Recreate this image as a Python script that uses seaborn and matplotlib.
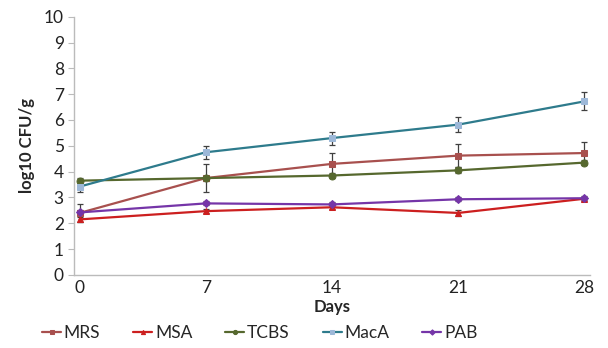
import matplotlib
matplotlib.use("Agg")
import matplotlib.pyplot as plt
import seaborn as sns
import pandas as pd

days = [0, 7, 14, 21, 28]
media = ["MRS", "MSA", "TCBS", "MacA", "PAB"]

mrs = [2.4, 3.75, 4.3, 4.62, 4.72]
msa = [2.15, 2.47, 2.62, 2.4, 2.95]
tcbs = [3.65, 3.75, 3.85, 4.05, 4.35]
maca = [3.42, 4.75, 5.3, 5.82, 6.72]
pab = [2.42, 2.77, 2.73, 2.93, 2.97]

mrs_err = [0.35, 0.55, 0.42, 0.45, 0.42]
msa_err = [0.1, 0.08, 0.08, 0.1, 0.08]
tcbs_err = [0.1, 0.1, 0.08, 0.12, 0.1]
maca_err = [0.2, 0.25, 0.25, 0.3, 0.35]
pab_err = [0.1, 0.08, 0.08, 0.08, 0.08]

values = dict(MRS=mrs, MSA=msa, TCBS=tcbs, MacA=maca, PAB=pab)
errors = dict(MRS=mrs_err, MSA=msa_err, TCBS=tcbs_err, MacA=maca_err, PAB=pab_err)

rows = []
for m in media:
    for d, v, e in zip(days, values[m], errors[m]):
        rows.append({"Days": d, "Medium": m, "CFU": v, "err": e})
df = pd.DataFrame(rows)

line_colors = {"MRS": "#A8504E", "MSA": "#CC1F1F", "TCBS": "#56682E", "MacA": "#2E7B8C", "PAB": "#7535A8"}
face_colors = {"MRS": "#A8504E", "MSA": "#CC1F1F", "TCBS": "#56682E", "MacA": "#9DB8D8", "PAB": "#7535A8"}
markers = {"MRS": "s", "MSA": "^", "TCBS": "o", "MacA": "s", "PAB": "D"}

sns.set_theme(style="white")
plt.rcParams['font.family'] = ['Lato', 'DejaVu Sans']

fig, ax = plt.subplots(figsize=(6.08, 3.48), dpi=100)
fig.subplots_adjust(left=0.122, right=0.97, top=0.952, bottom=0.21)

for m in media:
    sub = df[df["Medium"] == m]
    ax.errorbar(sub["Days"], sub["CFU"], yerr=sub["err"], fmt="none",
                ecolor="#404040", elinewidth=0.9, capsize=2, capthick=0.9, zorder=2)
    sns.lineplot(data=sub, x="Days", y="CFU", ax=ax, color=line_colors[m],
                 marker=markers[m], markersize=5 if markers[m] != "D" else 4.5,
                 markerfacecolor=face_colors[m], markeredgecolor=face_colors[m],
                 linewidth=1.6, label=m, zorder=3)

ax.set_xlim(-0.3, 28.3)
ax.set_ylim(0, 10)
ax.set_xticks(days)
ax.set_yticks(range(0, 11))
ax.tick_params(axis="both", labelsize=12.5, colors="#222222")
ax.tick_params(axis="y", length=4, width=0.8, color="#BBBBBB", left=True)
ax.tick_params(axis="x", length=0)
for s in ["top", "right"]:
    ax.spines[s].set_visible(False)
for s in ["left", "bottom"]:
    ax.spines[s].set_color("#BBBBBB")
    ax.spines[s].set_linewidth(1.0)

ax.set_xlabel("Days", fontsize=12, fontweight="bold", labelpad=2)
ax.set_ylabel("log10 CFU/g", fontsize=12, fontweight="bold", labelpad=6)

ax.legend(loc="upper center", bbox_to_anchor=(0.36, -0.135), ncol=5, frameon=False,
          fontsize=12.5, handlelength=1.1, handletextpad=0.15, columnspacing=1.9,
          markerscale=0.6)

fig.savefig("out.png", dpi=100)
